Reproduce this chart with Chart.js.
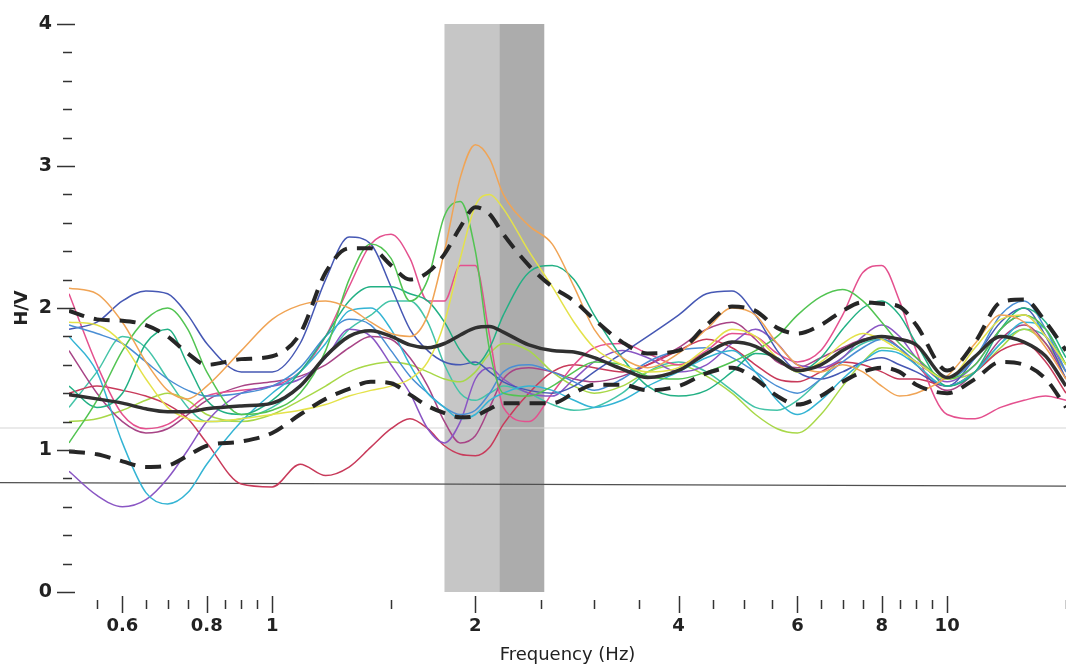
<!DOCTYPE html>
<html lang="en">
<head>
    <meta charset="UTF-8">
    <title>H/V spectral ratio</title>
    <script src="https://cdn.jsdelivr.net/npm/chart.js"></script>
    <style>
        body {
            margin: 0;
            background: #ffffff;
        }
    </style>
</head>
<body>
    <canvas id="hvChart" width="1066" height="670"></canvas>

    <script>
        // frequency samples (Hz)
        const freqs = [0.5, 0.55, 0.6, 0.65, 0.7, 0.75, 0.8, 0.9, 1.0, 1.1,
            1.2, 1.3, 1.4, 1.5, 1.6, 1.7, 1.8, 1.9, 2.0, 2.1,
            2.2, 2.4, 2.6, 2.8, 3.0, 3.3, 3.6, 4.0, 4.4, 4.8,
            5.2, 5.6, 6.0, 6.5, 7.0, 7.5, 8.0, 8.5, 9.0, 10,
            11, 12, 13, 14, 15];

        // average H/V and +/- std curves
        const meanHV = [1.39, 1.36, 1.33, 1.29, 1.27, 1.27, 1.29, 1.31, 1.33, 1.45,
            1.66, 1.80, 1.84, 1.80, 1.74, 1.72, 1.75, 1.81, 1.86, 1.87,
            1.83, 1.74, 1.70, 1.69, 1.65, 1.57, 1.51, 1.56, 1.68, 1.76,
            1.73, 1.64, 1.56, 1.60, 1.70, 1.77, 1.80, 1.78, 1.74, 1.51,
            1.66, 1.80, 1.76, 1.66, 1.45];
        const upperHV = [1.98, 1.92, 1.91, 1.88, 1.80, 1.68, 1.60, 1.64, 1.66, 1.82,
            2.25, 2.42, 2.42, 2.30, 2.20, 2.25, 2.38, 2.57, 2.71, 2.66,
            2.52, 2.30, 2.15, 2.05, 1.92, 1.76, 1.68, 1.70, 1.88, 2.01,
            1.98, 1.86, 1.82, 1.88, 1.98, 2.04, 2.03, 2.01, 1.88, 1.56,
            1.76, 2.04, 2.06, 1.90, 1.70];
        const lowerHV = [0.99, 0.97, 0.92, 0.88, 0.89, 0.96, 1.03, 1.06, 1.12, 1.25,
            1.36, 1.43, 1.48, 1.47, 1.39, 1.31, 1.26, 1.23, 1.24, 1.29,
            1.33, 1.33, 1.33, 1.40, 1.46, 1.46, 1.42, 1.45, 1.54, 1.58,
            1.50, 1.38, 1.32, 1.38, 1.48, 1.55, 1.58, 1.55, 1.46, 1.40,
            1.50, 1.62, 1.60, 1.50, 1.30];

        // individual windows
        const win01 = [2.14, 2.10, 1.90, 1.62, 1.42, 1.36, 1.45, 1.70, 1.92, 2.02,
            2.05, 2.00, 1.90, 1.82, 1.80, 1.95, 2.40, 2.92, 3.15, 3.05,
            2.80, 2.58, 2.45, 2.15, 1.85, 1.65, 1.58, 1.68, 1.85, 2.00,
            1.95, 1.75, 1.60, 1.55, 1.60, 1.55, 1.45, 1.38, 1.40, 1.52,
            1.75, 1.95, 1.90, 1.72, 1.50];
        const win02 = [1.90, 1.88, 1.75, 1.50, 1.30, 1.22, 1.20, 1.22, 1.25, 1.28,
            1.32, 1.38, 1.42, 1.45, 1.50, 1.62, 1.90, 2.35, 2.72, 2.80,
            2.70, 2.40, 2.15, 1.90, 1.72, 1.60, 1.55, 1.58, 1.72, 1.85,
            1.80, 1.65, 1.55, 1.62, 1.75, 1.82, 1.78, 1.70, 1.62, 1.50,
            1.72, 1.92, 1.95, 1.80, 1.60];
        const win03 = [1.05, 1.35, 1.70, 1.92, 2.00, 1.85, 1.55, 1.25, 1.28, 1.40,
            1.70, 2.20, 2.45, 2.35, 2.05, 2.20, 2.65, 2.75, 2.40, 1.70,
            1.40, 1.38, 1.45, 1.55, 1.62, 1.60, 1.52, 1.50, 1.55, 1.62,
            1.70, 1.80, 1.95, 2.08, 2.13, 2.05, 1.90, 1.75, 1.65, 1.50,
            1.60, 1.85, 1.95, 1.85, 1.60];
        const win04 = [1.45, 1.30, 1.40, 1.75, 1.85, 1.60, 1.35, 1.25, 1.35, 1.55,
            1.80, 2.05, 2.15, 2.15, 2.10, 2.05, 1.90, 1.70, 1.60, 1.72,
            1.95, 2.25, 2.30, 2.20, 1.95, 1.65, 1.45, 1.38, 1.42, 1.55,
            1.68, 1.65, 1.55, 1.65, 1.85, 2.00, 2.05, 1.95, 1.75, 1.45,
            1.55, 1.85, 2.00, 1.90, 1.65];
        const win05 = [1.80, 1.55, 1.05, 0.70, 0.62, 0.70, 0.90, 1.20, 1.40, 1.55,
            1.75, 1.98, 2.00, 1.85, 1.60, 1.40, 1.30, 1.22, 1.25, 1.35,
            1.40, 1.45, 1.42, 1.35, 1.30, 1.35, 1.45, 1.55, 1.65, 1.70,
            1.55, 1.35, 1.25, 1.35, 1.50, 1.62, 1.70, 1.68, 1.60, 1.45,
            1.55, 1.75, 1.90, 1.85, 1.60];
        const win06 = [1.88, 1.82, 1.75, 1.62, 1.50, 1.42, 1.38, 1.40, 1.45, 1.58,
            1.80, 1.92, 1.88, 1.70, 1.52, 1.40, 1.30, 1.25, 1.28, 1.40,
            1.55, 1.60, 1.55, 1.48, 1.42, 1.50, 1.62, 1.70, 1.72, 1.65,
            1.55, 1.45, 1.40, 1.50, 1.62, 1.72, 1.78, 1.72, 1.62, 1.50,
            1.65, 1.95, 2.05, 1.85, 1.55];
        const win07 = [1.85, 1.90, 2.05, 2.12, 2.10, 1.95, 1.75, 1.55, 1.55, 1.75,
            2.20, 2.50, 2.45, 2.15, 1.85, 1.70, 1.62, 1.60, 1.62, 1.55,
            1.48, 1.42, 1.40, 1.45, 1.55, 1.68, 1.80, 1.95, 2.10, 2.12,
            1.95, 1.70, 1.55, 1.50, 1.55, 1.62, 1.65, 1.60, 1.55, 1.45,
            1.65, 1.90, 2.00, 1.80, 1.50];
        const win08 = [0.85, 0.68, 0.60, 0.65, 0.80, 1.00, 1.20, 1.40, 1.45, 1.50,
            1.65, 1.85, 1.80, 1.60, 1.40, 1.15, 1.05, 1.20, 1.50, 1.58,
            1.50, 1.40, 1.38, 1.50, 1.62, 1.70, 1.65, 1.55, 1.60, 1.75,
            1.85, 1.75, 1.60, 1.58, 1.65, 1.80, 1.88, 1.80, 1.65, 1.48,
            1.60, 1.85, 1.95, 1.80, 1.55];
        const win09 = [2.10, 1.60, 1.25, 1.15, 1.18, 1.28, 1.38, 1.42, 1.45, 1.55,
            1.80, 2.15, 2.45, 2.52, 2.35, 2.05, 2.05, 2.30, 2.30, 1.80,
            1.30, 1.20, 1.40, 1.60, 1.72, 1.75, 1.68, 1.60, 1.70, 1.82,
            1.80, 1.68, 1.62, 1.70, 1.95, 2.25, 2.30, 2.05, 1.70, 1.25,
            1.22, 1.30, 1.35, 1.38, 1.35];
        const win10 = [1.40, 1.45, 1.42, 1.38, 1.32, 1.22, 1.05, 0.76, 0.74, 0.90,
            0.82, 0.88, 1.02, 1.15, 1.22, 1.15, 1.03, 0.97, 0.96, 1.02,
            1.18, 1.40, 1.55, 1.60, 1.58, 1.55, 1.60, 1.70, 1.78, 1.72,
            1.60, 1.50, 1.48, 1.55, 1.62, 1.60, 1.55, 1.50, 1.50, 1.45,
            1.55, 1.70, 1.75, 1.62, 1.40];
        const win11 = [1.70, 1.40, 1.20, 1.12, 1.15, 1.25, 1.35, 1.45, 1.48, 1.52,
            1.60, 1.72, 1.80, 1.78, 1.65, 1.45, 1.20, 1.05, 1.10, 1.30,
            1.50, 1.58, 1.55, 1.50, 1.48, 1.52, 1.60, 1.72, 1.85, 1.90,
            1.78, 1.62, 1.58, 1.65, 1.72, 1.78, 1.80, 1.72, 1.60, 1.42,
            1.55, 1.78, 1.88, 1.75, 1.50];
        const win12 = [1.20, 1.22, 1.28, 1.35, 1.40, 1.35, 1.25, 1.20, 1.25, 1.35,
            1.45, 1.55, 1.60, 1.62, 1.60, 1.55, 1.50, 1.48, 1.55, 1.68,
            1.75, 1.70, 1.55, 1.45, 1.40, 1.45, 1.55, 1.60, 1.52, 1.40,
            1.25, 1.15, 1.12, 1.25, 1.45, 1.62, 1.72, 1.70, 1.62, 1.50,
            1.55, 1.72, 1.85, 1.75, 1.55];
        const win13 = [1.30, 1.55, 1.80, 1.72, 1.50, 1.30, 1.20, 1.22, 1.30, 1.45,
            1.65, 1.85, 1.95, 2.05, 2.05, 1.90, 1.60, 1.40, 1.35, 1.40,
            1.45, 1.40, 1.32, 1.28, 1.30, 1.40, 1.55, 1.62, 1.55, 1.42,
            1.30, 1.28, 1.35, 1.50, 1.65, 1.75, 1.78, 1.72, 1.60, 1.45,
            1.55, 1.75, 1.85, 1.80, 1.60];

        const windows = [win01, win02, win03, win04, win05, win06, win07,
            win08, win09, win10, win11, win12, win13];
        const winColors = ['#f0a455', '#e4e24a', '#52c452', '#22b084', '#34b4d4', '#4a8ed4', '#4658b4',
            '#8a56c4', '#e4508e', '#c83a5a', '#a84486', '#a8d848', '#44c4a8'];

        // peak frequency band (Hz): f0 - std, f0, f0 + std
        const bandEdges = [1.8, 2.17, 2.53];
        // straight reference lines (H/V at left and right ends)
        const refStart = [1.155, 0.77];
        const refEnd = [1.155, 0.745];

        // axis ticks
        const xTickVals = [0.55, 0.6, 0.65, 0.7, 0.75, 0.8, 0.85, 0.9, 0.95, 1, 1.5, 2, 2.5, 3, 3.5,
            4, 4.5, 5, 5.5, 6, 6.5, 7, 7.5, 8, 8.5, 9, 9.5, 10, 15];
        const xLabelVals = [0.6, 0.8, 1, 2, 4, 6, 8, 10];
        const yTickVals = [0, 0.2, 0.4, 0.6, 0.8, 1, 1.2, 1.4, 1.6, 1.8, 2, 2.2, 2.4, 2.6, 2.8,
            3, 3.2, 3.4, 3.6, 3.8, 4];
        const yLabelVals = [0, 1, 2, 3, 4];

        const toPoints = arr => arr.map((v, i) => ({ x: freqs[i], y: v }));

        const datasets = windows.map((w, i) => ({
            data: toPoints(w),
            borderColor: winColors[i],
            borderWidth: 1.5,
            order: 2
        }));
        datasets.push({ data: toPoints(upperHV), borderColor: '#262626', borderWidth: 4, borderDash: [16, 10], order: 1 });
        datasets.push({ data: toPoints(lowerHV), borderColor: '#262626', borderWidth: 4, borderDash: [16, 10], order: 1 });
        datasets.push({ data: toPoints(meanHV), borderColor: '#303030', borderWidth: 3.5, order: 0 });

        const hvDecor = {
            id: 'hvDecor',
            beforeDatasetsDraw(chart) {
                const { ctx, scales: { x, y } } = chart;
                const top = y.getPixelForValue(4);
                const bottom = y.getPixelForValue(0);
                const bandColors = ['#c6c6c6', '#acacac'];
                ctx.save();
                for (let i = 0; i < bandEdges.length - 1; i++) {
                    const x0 = x.getPixelForValue(bandEdges[i]);
                    const x1 = x.getPixelForValue(bandEdges[i + 1]);
                    ctx.fillStyle = bandColors[i];
                    ctx.fillRect(x0, top, x1 - x0, bottom - top);
                }
                const refColors = ['#d6d6d6', '#505050'];
                refStart.forEach((v, i) => {
                    ctx.beginPath();
                    ctx.strokeStyle = refColors[i];
                    ctx.lineWidth = 1.2;
                    ctx.moveTo(0, y.getPixelForValue(v));
                    ctx.lineTo(chart.width, y.getPixelForValue(refEnd[i]));
                    ctx.stroke();
                });
                ctx.restore();
            },
            afterDraw(chart) {
                const { ctx, chartArea, scales: { x, y } } = chart;
                ctx.save();
                ctx.strokeStyle = '#333';
                ctx.lineWidth = 1.5;
                xTickVals.forEach(v => {
                    const px = Math.round(x.getPixelForValue(v)) + 0.5;
                    const major = xLabelVals.includes(v);
                    ctx.beginPath();
                    ctx.moveTo(px, chartArea.bottom + (major ? 4 : 8));
                    ctx.lineTo(px, chartArea.bottom + (major ? 21 : 17));
                    ctx.stroke();
                });
                yTickVals.forEach(v => {
                    const py = Math.round(y.getPixelForValue(v)) + 0.5;
                    const major = yLabelVals.includes(v);
                    ctx.beginPath();
                    ctx.moveTo(chartArea.left + (major ? -12 : -6), py);
                    ctx.lineTo(chartArea.left + (major ? 6 : 3), py);
                    ctx.stroke();
                });
                ctx.restore();
            }
        };

        new Chart(document.getElementById('hvChart'), {
            type: 'line',
            data: { datasets: datasets },
            options: {
                responsive: false,
                animation: false,
                layout: { autoPadding: false, padding: { top: 24, right: 0, left: 0, bottom: 0 } },
                elements: {
                    point: { radius: 0 },
                    line: { cubicInterpolationMode: 'monotone' }
                },
                plugins: {
                    legend: { display: false },
                    tooltip: { enabled: false }
                },
                scales: {
                    x: {
                        type: 'logarithmic',
                        min: 0.5,
                        max: 15,
                        grid: { display: false },
                        border: { display: false },
                        afterBuildTicks: scale => {
                            scale.ticks = xTickVals.map(v => ({ value: v }));
                        },
                        afterFit: scale => {
                            scale.height = 78;
                            scale.paddingLeft = 0;
                            scale.paddingRight = 0;
                        },
                        ticks: {
                            autoSkip: false,
                            maxRotation: 0,
                            padding: 16,
                            color: '#222',
                            font: { family: 'DejaVu Sans', size: 18, weight: 'bold' },
                            callback: v => xLabelVals.includes(v) ? String(v) : ''
                        },
                        title: {
                            display: true,
                            text: 'Frequency (Hz)',
                            color: '#222',
                            font: { family: 'DejaVu Sans', size: 18 },
                            padding: { top: 0, bottom: 4 }
                        }
                    },
                    y: {
                        min: 0,
                        max: 4,
                        grid: { display: false },
                        border: { display: false },
                        afterBuildTicks: scale => {
                            scale.ticks = yLabelVals.map(v => ({ value: v }));
                        },
                        afterFit: scale => { scale.width = 69; },
                        ticks: {
                            autoSkip: false,
                            padding: 9,
                            color: '#222',
                            font: { family: 'DejaVu Sans', size: 19, weight: 'bold' }
                        },
                        title: {
                            display: true,
                            text: 'H/V',
                            color: '#222',
                            font: { family: 'DejaVu Sans', size: 18, weight: 'bold' },
                            padding: { top: 12, bottom: 0 }
                        }
                    }
                }
            },
            plugins: [hvDecor]
        });
    </script>
</body>
</html>
